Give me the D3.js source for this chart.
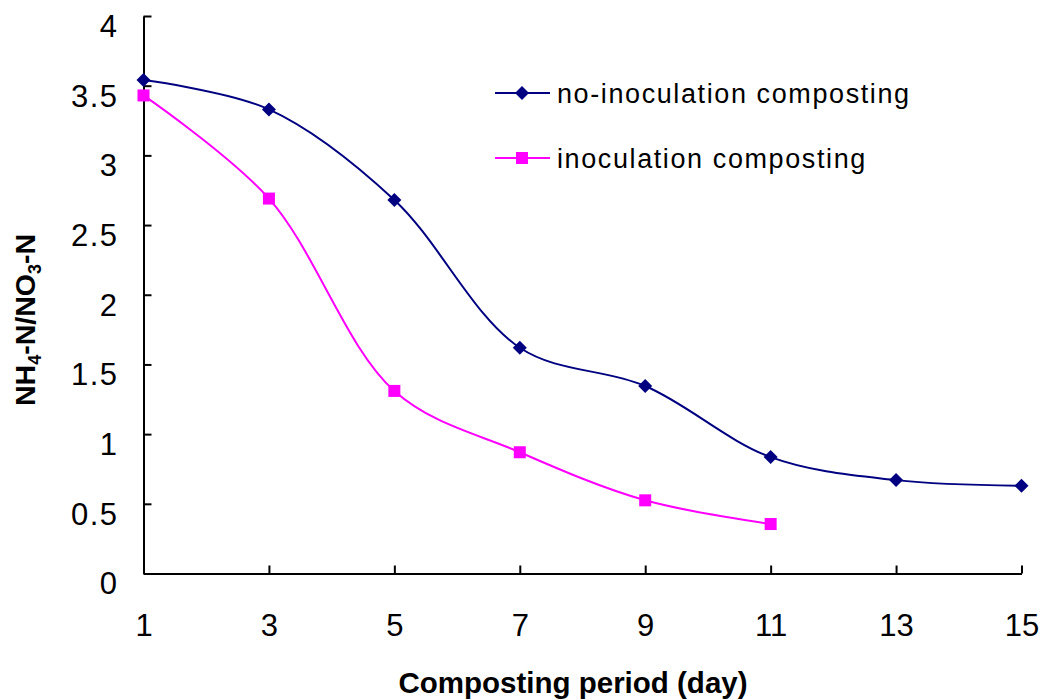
<!DOCTYPE html>
<html><head><meta charset="utf-8">
<script src="https://cdn.jsdelivr.net/npm/d3@7"></script>
<style>body{margin:0;background:#fff}svg{display:block}text{font-family:"Liberation Sans",Arial,sans-serif}</style>
</head><body><svg id="c" width="1042" height="700"></svg>
<script>
const days = [1,3,5,7,9,11,13,15];
const noInoc = [3.54,3.33,2.68,1.62,1.345,0.835,0.67,0.63];
const inocDays = [1,3,5,7,9,11];
const inoc = [3.43,2.69,1.31,0.87,0.525,0.355];
const yTicks = [0,0.5,1,1.5,2,2.5,3,3.5,4];
const xTicks = [1,3,5,7,9,11,13,15];
const seriesNames = ["no-inoculation composting","inoculation composting"];
const colors = ["#000080","#FF00FF"];

const svg = d3.select("#c");
const x = d3.scaleLinear().domain([1,15]).range([143.5,1021.5]);
const y = d3.scaleLinear().domain([0,4]).range([573.5,16]);

const xAxis = svg.append("g").attr("transform","translate(0,573.5)")
  .call(d3.axisBottom(x).tickValues(xTicks).tickSize(-8).tickSizeOuter(0).tickFormat(d3.format("d")));
const yAxis = svg.append("g").attr("transform","translate(143.5,0)")
  .call(d3.axisLeft(y).tickValues(yTicks).tickSize(-8).tickSizeOuter(0).tickFormat(d=>String(d)));
[xAxis,yAxis].forEach(g=>{
  g.select(".domain").attr("stroke","#000").attr("stroke-width",2);
  g.selectAll(".tick line").attr("stroke","#000").attr("stroke-width",2);
  g.selectAll(".tick text").attr("fill","#000").style("font-size","31px");
});
xAxis.selectAll(".tick text").attr("y",40).attr("dy","0.71em");
yAxis.selectAll(".tick text").attr("x",-25).attr("dy","0.66em").attr("letter-spacing",1.5);

svg.append("text").attr("x",573).attr("y",693).attr("text-anchor","middle")
  .style("font-size","29.5px").attr("font-weight","bold").text("Composting period (day)");
const yt = svg.append("text").attr("transform","translate(35,320) rotate(-90)")
  .attr("text-anchor","middle").style("font-size","28.5px").attr("font-weight","bold");
yt.append("tspan").text("NH");
yt.append("tspan").style("font-size","18px").attr("dy",6).text("4");
yt.append("tspan").attr("dy",-6).text("-N/NO");
yt.append("tspan").style("font-size","18px").attr("dy",6).text("3");
yt.append("tspan").attr("dy",-6).text("-N");

const line = d3.line().x(d=>x(d[0])).y(d=>y(d[1])).curve(d3.curveCatmullRom.alpha(0.5));
const s1 = days.map((d,i)=>[d,noInoc[i]]);
const s2 = inocDays.map((d,i)=>[d,inoc[i]]);

svg.append("path").datum(s1).attr("d",line).attr("fill","none").attr("stroke",colors[0]).attr("stroke-width",2);
svg.append("path").datum(s2).attr("d",line).attr("fill","none").attr("stroke",colors[1]).attr("stroke-width",2);

const diamond = s=>`M0,${-s}L${s},0L0,${s}L${-s},0Z`;
svg.selectAll(".d1").data(s1).enter().append("path")
  .attr("transform",d=>`translate(${x(d[0])},${y(d[1])})`).attr("d",diamond(7)).attr("fill",colors[0]);
svg.selectAll(".d2").data(s2).enter().append("rect")
  .attr("x",d=>x(d[0])-6).attr("y",d=>y(d[1])-6).attr("width",12).attr("height",12).attr("fill",colors[1]);

const leg = [[93,0],[158,1]];
leg.forEach(([ly,i])=>{
  svg.append("line").attr("x1",495).attr("x2",550).attr("y1",ly).attr("y2",ly).attr("stroke",colors[i]).attr("stroke-width",2);
  if(i===0) svg.append("path").attr("transform",`translate(522,${ly})`).attr("d",diamond(7)).attr("fill",colors[0]);
  else svg.append("rect").attr("x",516).attr("y",ly-6).attr("width",12).attr("height",12).attr("fill",colors[1]);
  svg.append("text").attr("x",557).attr("y",ly+10).style("font-size","27px").attr("letter-spacing",1.6).attr("fill","#000").text(seriesNames[i]);
});
</script></body></html>
